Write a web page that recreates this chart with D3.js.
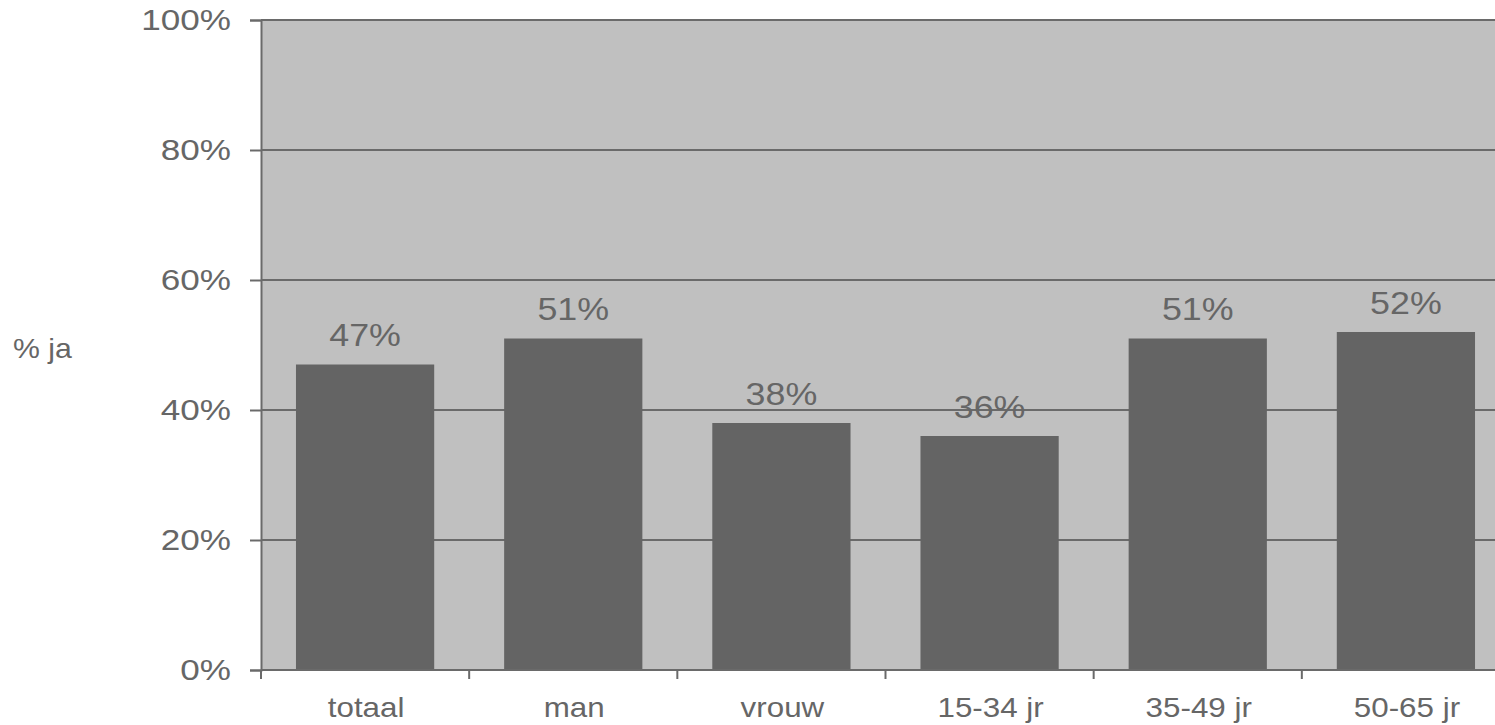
<!DOCTYPE html>
<html><head><meta charset="utf-8">
<script src="https://cdn.jsdelivr.net/npm/d3@7"></script>
<style>body{margin:0;background:#fff;overflow:hidden}text{font-family:"Liberation Sans",Arial,sans-serif}</style>
</head><body><svg id="c" width="1495" height="725"></svg>
<script>
const categories = ["totaal","man","vrouw","15-34 jr","35-49 jr","50-65 jr"];
const values = [47,51,38,36,51,52];
const yTicks = [0,20,40,60,80,100];
const yLabel = "% ja";

const svg = d3.select("#c");
const pLeft = 261, pRight = 1510, pTop = 20, pBottom = 670;
const x = d3.scaleBand().domain(categories).range([pLeft,pRight]).paddingInner(0.336).paddingOuter(0.168);
const y = d3.scaleLinear().domain([0,100]).range([pBottom,pTop]);
const grey = "#666666", lineC = "#6a6a6a";

function stext(g, tx, ty, size, sx, anchor, str){
  return g.append("text").attr("transform",`translate(${tx},${ty}) scale(${sx},1)`)
    .attr("text-anchor",anchor).attr("font-size",size).attr("fill",grey).text(str);
}

svg.append("rect").attr("x",pLeft).attr("y",pTop).attr("width",pRight-pLeft).attr("height",pBottom-pTop).attr("fill","#c0c0c0");

svg.append("g").selectAll("line").data(yTicks.filter(d=>d>0)).join("line")
  .attr("x1",pLeft).attr("x2",pRight).attr("y1",d=>y(d)).attr("y2",d=>y(d))
  .attr("stroke",lineC).attr("stroke-width",2);

svg.append("g").selectAll("rect").data(values).join("rect")
  .attr("x",(d,i)=>x(categories[i])).attr("width",x.bandwidth())
  .attr("y",d=>y(d)).attr("height",d=>pBottom-y(d)).attr("fill","#646464");

const lab = svg.append("g");
values.forEach((v,i)=>stext(lab, x(categories[i])+x.bandwidth()/2, y(v)-18.5, 32, 1.12, "middle", v+"%"));

const yAxis = svg.append("g").attr("transform",`translate(${pLeft},0)`)
  .call(d3.axisLeft(y).tickValues(yTicks).tickFormat("").tickSize(11));
yAxis.select(".domain").attr("stroke",lineC).attr("stroke-width",2);
yAxis.selectAll(".tick line").attr("stroke",lineC).attr("stroke-width",2);
const yl = svg.append("g");
yTicks.forEach(t=>stext(yl, 231, y(t)+10, 30, 1.17, "end", t+"%"));

const xb = d3.scaleLinear().domain([0,6]).range([pLeft,pRight]);
const xAxis = svg.append("g").attr("transform",`translate(0,${pBottom})`);
xAxis.append("line").attr("x1",pLeft).attr("x2",pRight).attr("stroke",lineC).attr("stroke-width",2);
xAxis.selectAll("line.t").data(d3.range(0,7)).join("line").attr("class","t")
  .attr("x1",d=>xb(d)).attr("x2",d=>xb(d)).attr("y1",0).attr("y2",9).attr("stroke",lineC).attr("stroke-width",2);
const xl = svg.append("g");
categories.forEach(c=>stext(xl, x(c)+x.bandwidth()/2+1, 717, 28, 1.12, "middle", c));

stext(svg, 13, 358, 28, 1.08, "start", yLabel);
</script></body></html>
